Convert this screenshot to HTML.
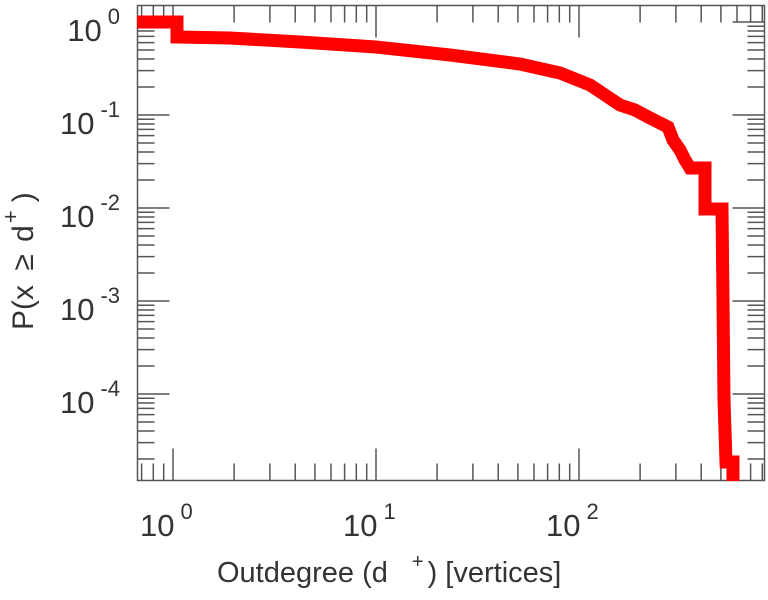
<!DOCTYPE html>
<html><head><meta charset="utf-8"><style>
html,body{margin:0;padding:0;background:#fff;}
svg{display:block;font-family:"Liberation Sans",sans-serif;}
</style></head><body>
<svg width="768" height="600" xmlns="http://www.w3.org/2000/svg">
<rect x="137.5" y="5.5" width="627" height="475" stroke="#555" stroke-width="1.5" fill="none"/>
<path stroke="#555" stroke-width="1.5" fill="none" d="
M141.6 480.5v-17M153.3 480.5v-17M163.7 480.5v-17M173 480.5v-32M234.1 480.5v-17M269.9 480.5v-17M295.2 480.5v-17M314.9 480.5v-17M331 480.5v-17M344.6 480.5v-17M356.3 480.5v-17M366.7 480.5v-17
M376 480.5v-32M437.1 480.5v-17M472.9 480.5v-17M498.2 480.5v-17M517.9 480.5v-17M534 480.5v-17M547.6 480.5v-17M559.3 480.5v-17M569.7 480.5v-17
M579 480.5v-32M640.1 480.5v-17M675.9 480.5v-17M701.2 480.5v-17M720.9 480.5v-17M737 480.5v-17M750.6 480.5v-17M762.3 480.5v-17
M141.6 5.5v11M153.3 5.5v11M163.7 5.5v11M173 5.5v11M234.1 5.5v17M269.9 5.5v17M295.2 5.5v17M314.9 5.5v17M331 5.5v17M344.6 5.5v17M356.3 5.5v17M366.7 5.5v17
M376 5.5v32M437.1 5.5v17M472.9 5.5v17M498.2 5.5v17M517.9 5.5v17M534 5.5v17M547.6 5.5v17M559.3 5.5v17M569.7 5.5v17
M579 5.5v32M640.1 5.5v17M675.9 5.5v17M701.2 5.5v17M720.9 5.5v17M737 5.5v17M750.6 5.5v17M762.3 5.5v17
M137.5 22h32M137.5 87h17M137.5 70.6h17M137.5 59h17M137.5 50h17M137.5 42.6h17M137.5 36.4h17M137.5 31h17M137.5 26.3h17
M137.5 115h32M137.5 180h17M137.5 163.6h17M137.5 152h17M137.5 143h17M137.5 135.6h17M137.5 129.4h17M137.5 124h17M137.5 119.3h17
M137.5 208h32M137.5 273h17M137.5 256.6h17M137.5 245h17M137.5 236h17M137.5 228.6h17M137.5 222.4h17M137.5 217h17M137.5 212.3h17
M137.5 301h32M137.5 366h17M137.5 349.6h17M137.5 338h17M137.5 329h17M137.5 321.6h17M137.5 315.4h17M137.5 310h17M137.5 305.3h17
M137.5 394h32M137.5 459h17M137.5 442.6h17M137.5 431h17M137.5 422h17M137.5 414.6h17M137.5 408.4h17M137.5 403h17M137.5 398.3h17
M764.5 22h-32M764.5 87h-17M764.5 70.6h-17M764.5 59h-17M764.5 50h-17M764.5 42.6h-17M764.5 36.4h-17M764.5 31h-17M764.5 26.3h-17
M764.5 115h-32M764.5 180h-17M764.5 163.6h-17M764.5 152h-17M764.5 143h-17M764.5 135.6h-17M764.5 129.4h-17M764.5 124h-17M764.5 119.3h-17
M764.5 208h-32M764.5 273h-17M764.5 256.6h-17M764.5 245h-17M764.5 236h-17M764.5 228.6h-17M764.5 222.4h-17M764.5 217h-17M764.5 212.3h-17
M764.5 301h-32M764.5 366h-17M764.5 349.6h-17M764.5 338h-17M764.5 329h-17M764.5 321.6h-17M764.5 315.4h-17M764.5 310h-17M764.5 305.3h-17
M764.5 394h-32M764.5 459h-17M764.5 442.6h-17M764.5 431h-17M764.5 422h-17M764.5 414.6h-17M764.5 408.4h-17M764.5 403h-17M764.5 398.3h-17
"/>
<polyline fill="none" stroke="#ff0000" stroke-width="13" stroke-linejoin="miter" points="137,22 177,22 177,37 230,38 300,42 376,47 450,55 520,64 560,73 590,85 605,95 620,105 635,110 650,118 668,127 673,140 680,150 685,160 690,168 705,168 705,209 722,209 723,300 724,400 726,462 733,462 733,481"/>
<g fill="#333" font-size="31">
<text x="120" y="41" text-anchor="end">10<tspan font-size="22" dy="-17" dx="6">0</tspan></text>
<text x="120" y="134" text-anchor="end">10<tspan font-size="22" dy="-17" dx="6">-1</tspan></text>
<text x="120" y="227" text-anchor="end">10<tspan font-size="22" dy="-17" dx="6">-2</tspan></text>
<text x="120" y="320" text-anchor="end">10<tspan font-size="22" dy="-17" dx="6">-3</tspan></text>
<text x="120" y="413" text-anchor="end">10<tspan font-size="22" dy="-17" dx="6">-4</tspan></text>
<text x="140" y="536">10<tspan font-size="22" dy="-17" dx="6">0</tspan></text>
<text x="343" y="536">10<tspan font-size="22" dy="-17" dx="6">1</tspan></text>
<text x="546" y="536">10<tspan font-size="22" dy="-17" dx="6">2</tspan></text>
<text x="217" y="582" font-size="29">Outdegree (d<tspan font-size="20" dy="-14" dx="24">+</tspan><tspan dy="14" dx="4" font-size="29">) [vertices]</tspan></text>
<text transform="translate(33,330) rotate(-90)" font-size="30">P(x <tspan dx="6">≥</tspan> <tspan dx="4">d</tspan><tspan font-size="22" dy="-15" dx="2">+</tspan><tspan dy="15" dx="8" font-size="30">)</tspan></text>
</g>
</svg>
</body></html>
